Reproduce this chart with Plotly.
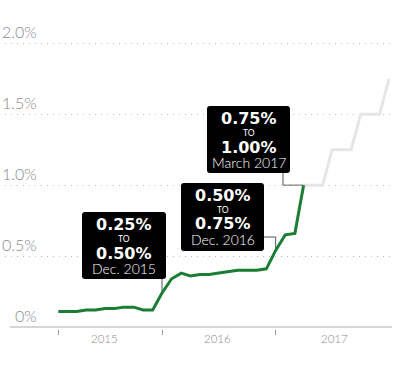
import pandas as pd
import plotly.graph_objects as go

# ---------------- data ----------------
actual_dates = pd.date_range("2015-01-01", "2017-03-01", freq="MS").strftime("%Y-%m-%d").tolist()
actual_rate = [0.11, 0.11, 0.11, 0.12, 0.12, 0.13, 0.13, 0.14, 0.14, 0.12, 0.12, 0.24,
               0.34, 0.38, 0.36, 0.37, 0.37, 0.38, 0.39, 0.40, 0.40, 0.40, 0.41, 0.54,
               0.65, 0.66, 1.00]

proj_dates = pd.date_range("2017-03-01", "2017-12-01", freq="MS").strftime("%Y-%m-%d").tolist()
proj_rate = [1.00, 1.00, 1.00, 1.25, 1.25, 1.25, 1.50, 1.50, 1.50, 1.75]

y_ticks = [0, 0.5, 1.0, 1.5, 2.0]
y_tick_labels = ["0%", "0.5%", "1.0%", "1.5%", "2.0%"]

year_labels = ["2015", "2016", "2017"]
year_label_pos = ["2015-05-29", "2016-05-28", "2017-06-08"]
tick_marks = ["2015-01-01", "2015-12-01", "2016-12-01"]

hike_from = ["0.25%", "0.50%", "0.75%"]
hike_to = ["0.50%", "0.75%", "1.00%"]
hike_when = ["Dec. 2015", "Dec. 2016", "March 2017"]
hike_dates = ["2015-12-01", "2016-12-01", "2017-03-01"]

# ---------------- geometry helpers ----------------
W, H = 401, 366
L, R, T, B = 5, 392, 20, 329
X_RANGE = [pd.Timestamp("2014-07-13 08:00"), pd.Timestamp("2017-12-10 17:00")]
Y_RANGE = [-0.0141, 2.1643]


def xd(px):
    t0, t1 = X_RANGE
    return (t0 + (t1 - t0) * ((px - L) / (R - L))).strftime("%Y-%m-%d %H:%M")


def yd(py):
    return Y_RANGE[1] - (py - T) / (B - T) * (Y_RANGE[1] - Y_RANGE[0])


def xp(px):
    return (px - L) / (R - L)


def yp(py):
    return (B - py) / (B - T)


def rounded_rect(x0, y0, x1, y1, r=3):
    pts = [f"M {xp(x0 + r)},{yp(y0)}",
           f"L {xp(x1 - r)},{yp(y0)}",
           f"Q {xp(x1)},{yp(y0)} {xp(x1)},{yp(y0 + r)}",
           f"L {xp(x1)},{yp(y1 - r)}",
           f"Q {xp(x1)},{yp(y1)} {xp(x1 - r)},{yp(y1)}",
           f"L {xp(x0 + r)},{yp(y1)}",
           f"Q {xp(x0)},{yp(y1)} {xp(x0)},{yp(y1 - r)}",
           f"L {xp(x0)},{yp(y0 + r)}",
           f"Q {xp(x0)},{yp(y0)} {xp(x0 + r)},{yp(y0)}",
           "Z"]
    return " ".join(pts)


GREEN = "#1b7d33"
LIGHT = "#e6e6e6"
TXT = "#8a8a8a"

fig = go.Figure()
fig.add_trace(go.Scatter(x=proj_dates, y=proj_rate, mode="lines",
                         line=dict(color=LIGHT, width=3), hoverinfo="skip"))
fig.add_trace(go.Scatter(x=actual_dates, y=actual_rate, mode="lines",
                         line=dict(color=GREEN, width=3), hoverinfo="skip"))

shapes = []
annotations = []

# baseline
shapes.append(dict(type="line", xref="paper", yref="y", x0=xp(10), x1=1, y0=0, y1=0,
                   line=dict(color="#c8c8c8", width=1.5), layer="below"))

# y labels above gridlines
for v, lab in zip(y_ticks, y_tick_labels):
    annotations.append(dict(xref="paper", yref="y", x=xp(38.5), y=v, text=lab,
                            xanchor="right", yanchor="bottom", showarrow=False, yshift=0,
                            font=dict(family="Lato", size=16, color=TXT, weight=300)))

# year labels
for lab, pos in zip(year_labels, year_label_pos):
    annotations.append(dict(xref="x", yref="paper", x=pos, y=0, text=lab,
                            xanchor="center", yanchor="middle", yshift=-9, showarrow=False,
                            font=dict(family="Lato", size=11.5, color=TXT, weight=300)))

# callout boxes (pixel geometry)
boxes = [(82, 212, 166, 279), (181, 183, 264, 251), (207, 106, 290, 173)]
for (bx0, by0, bx1, by1), f, t, w in zip(boxes, hike_from, hike_to, hike_when):
    shapes.append(dict(type="path", xref="paper", yref="paper", path=rounded_rect(bx0, by0, bx1, by1),
                       fillcolor="black", line=dict(width=0), layer="above"))
    cx = xp((bx0 + bx1) / 2)
    lines = [(f, 12.3, dict(family="DejaVu Sans", size=16, color="white", weight="bold")),
             ("TO", 26.5, dict(family="Lato", size=8.5, color="white")),
             (t, 41, dict(family="DejaVu Sans", size=16, color="white", weight="bold")),
             (w, 56.5, dict(family="Lato", size=14, color="white", weight=300))]
    for txt, dy, fnt in lines:
        annotations.append(dict(xref="paper", yref="paper", x=cx, y=yp(by0 + dy), text=txt,
                                xanchor="center", yanchor="middle", showarrow=False, font=fnt))

CONN = dict(color="#555555", width=1)
vals = dict(zip(actual_dates, actual_rate))
shapes.append(dict(type="line", xref="x", yref="y", x0=hike_dates[0], x1=hike_dates[0],
                   y0=vals[hike_dates[0]], y1=yd(279), line=CONN, layer="below"))
shapes.append(dict(type="line", xref="x", yref="y", x0=xd(264), x1=hike_dates[1],
                   y0=yd(237), y1=yd(237), line=CONN, layer="below"))
shapes.append(dict(type="line", xref="x", yref="y", x0=hike_dates[1], x1=hike_dates[1],
                   y0=yd(237), y1=vals[hike_dates[1]], line=CONN, layer="below"))
shapes.append(dict(type="line", xref="x", yref="y", x0=xd(283), x1=xd(283),
                   y0=yd(173), y1=vals[hike_dates[2]], line=CONN, layer="below"))
shapes.append(dict(type="line", xref="x", yref="y", x0=xd(283), x1=hike_dates[2],
                   y0=vals[hike_dates[2]], y1=vals[hike_dates[2]], line=CONN, layer="below"))

fig.update_layout(
    width=W, height=H,
    margin=dict(l=L, r=W - R, t=T, b=H - B),
    paper_bgcolor="white", plot_bgcolor="white",
    showlegend=False,
    shapes=shapes, annotations=annotations,
    xaxis=dict(type="date", range=[X_RANGE[0].strftime("%Y-%m-%d %H:%M"), X_RANGE[1].strftime("%Y-%m-%d %H:%M")],
               showgrid=False, zeroline=False, showline=False,
               tickmode="array", tickvals=tick_marks, ticktext=["", "", ""],
               ticks="outside", ticklen=5, tickwidth=1, tickcolor="#999999",
               showticklabels=False, fixedrange=True),
    yaxis=dict(range=Y_RANGE, tickmode="array", tickvals=[0.5, 1.0, 1.5, 2.0],
               showticklabels=False, showgrid=True, gridcolor="#bdbdbd", gridwidth=1,
               griddash="1px,5px", zeroline=False, showline=False, fixedrange=True),
)

fig.write_html("out.html", config={"displayModeBar": False},
               post_script="document.body.style.margin='0';document.body.style.padding='0';document.body.style.overflow='hidden';")
